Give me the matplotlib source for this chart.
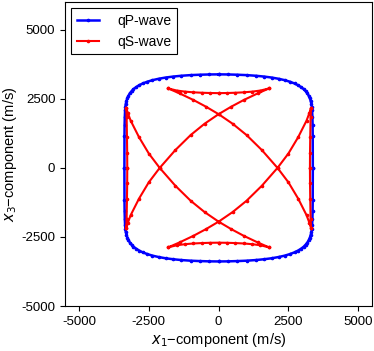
import numpy as np
import matplotlib
matplotlib.use("Agg")
import matplotlib.pyplot as plt

plt.rcParams['font.family'] = ['Liberation Sans', 'DejaVu Sans']
plt.rcParams['axes.unicode_minus'] = False

# qP wave front, first quadrant (top centre -> right centre), m/s
qp_x = [0, 330, 670, 1000, 1330, 1630, 1900, 2150, 2370, 2550, 2720, 2850, 2960,
        3050, 3120, 3180, 3230, 3270, 3300, 3325, 3340, 3350, 3360, 3368, 3372, 3375]
qp_y = [3385, 3382, 3372, 3358, 3335, 3305, 3270, 3225, 3175, 3120, 3055, 2990, 2920,
        2850, 2775, 2700, 2610, 2520, 2420, 2320, 2200, 2080, 1850, 1550, 1150, 0]

# qS wave front pieces
# top arc between the two upper cusps (right half, cusp -> centre)
arc_x = [1810, 1500, 1200, 900, 600, 300, 0]
arc_y = [2877, 2800, 2760, 2735, 2720, 2710, 2706]
# branch from upper-left cusp to lower-right side cusp
br_x = [-1810, -1400, -900, -450, 0, 500, 1000, 1550, 2110, 2500, 2850, 3150, 3250, 3310]
br_y = [2877, 2697, 2457, 2214, 1945, 1600, 1190, 645, 0, -520, -1110, -1710, -1980, -2165]
# right side line between the two side cusps (top half, cusp -> centre)
side_x = [3310, 3295, 3283, 3275, 3272]
side_y = [2165, 1850, 1130, 550, 0]


def full_loop(x, y):
    x = np.array(x, float)
    y = np.array(y, float)
    q1x, q1y = x, y
    q4x, q4y = x[::-1], -y[::-1]
    q3x, q3y = -x, -y
    q2x, q2y = -x[::-1], y[::-1]
    return (np.concatenate([q1x, q4x, q3x, q2x]),
            np.concatenate([q1y, q4y, q3y, q2y]))


qpx, qpy = full_loop(qp_x, qp_y)

ax_ = np.array(arc_x, float)
ay_ = np.array(arc_y, float)
bx = np.array(br_x, float)
by = np.array(br_y, float)
sx = np.array(side_x, float)
sy = np.array(side_y, float)

top_arc_x = np.concatenate([-ax_, ax_[::-1]])
top_arc_y = np.concatenate([ay_, ay_[::-1]])
side_full_y = np.concatenate([sy, -sy[::-1]])
side_full_x = np.concatenate([sx, sx[::-1]])

qs_x = np.concatenate([
    top_arc_x,                       # TL cusp -> TR cusp
    -bx,                             # TR cusp -> LB cusp
    -side_full_x[::-1],              # LB cusp -> LT cusp
    -bx[::-1],                       # LT cusp -> BR cusp
    top_arc_x[::-1],                 # BR cusp -> BL cusp
    bx,                              # BL cusp -> RT cusp
    side_full_x,                     # RT cusp -> RB cusp
    bx[::-1],                        # RB cusp -> TL cusp
])
qs_y = np.concatenate([
    top_arc_y,
    by,
    side_full_y[::-1],
    -by[::-1],
    -top_arc_y[::-1],
    -by,
    side_full_y,
    by[::-1],
])

fig = plt.figure(figsize=(3.74, 3.51), dpi=100)
ax = fig.add_axes([0.174, 0.128, 0.821, 0.866])

ax.plot(qpx, qpy, color='#0000ff', lw=1.8, marker='.', ms=3.2, label='qP-wave')
ax.plot(qs_x, qs_y, color='#ff0000', lw=1.5, marker='.', ms=3.2, label='qS-wave')

ax.set_xlim(-5500, 5500)
ax.set_ylim(-5000, 6000)
ax.set_xticks([-5000, -2500, 0, 2500, 5000])
ax.set_yticks([-5000, -2500, 0, 2500, 5000])
ax.tick_params(labelsize=9.5, direction='out', length=3.5, width=0.8)
ax.set_xlabel('$x_1$\u2212component (m/s)', fontsize=10.5, labelpad=2)
ax.set_ylabel('$x_3$\u2212component (m/s)', fontsize=10.5, labelpad=2)

leg = ax.legend(loc='upper left', fontsize=10, fancybox=False, edgecolor='black',
                framealpha=1, handlelength=1.6, handletextpad=1.3,
                borderaxespad=0.45)
leg.get_frame().set_linewidth(0.8)

fig.savefig('out.png', dpi=100)
